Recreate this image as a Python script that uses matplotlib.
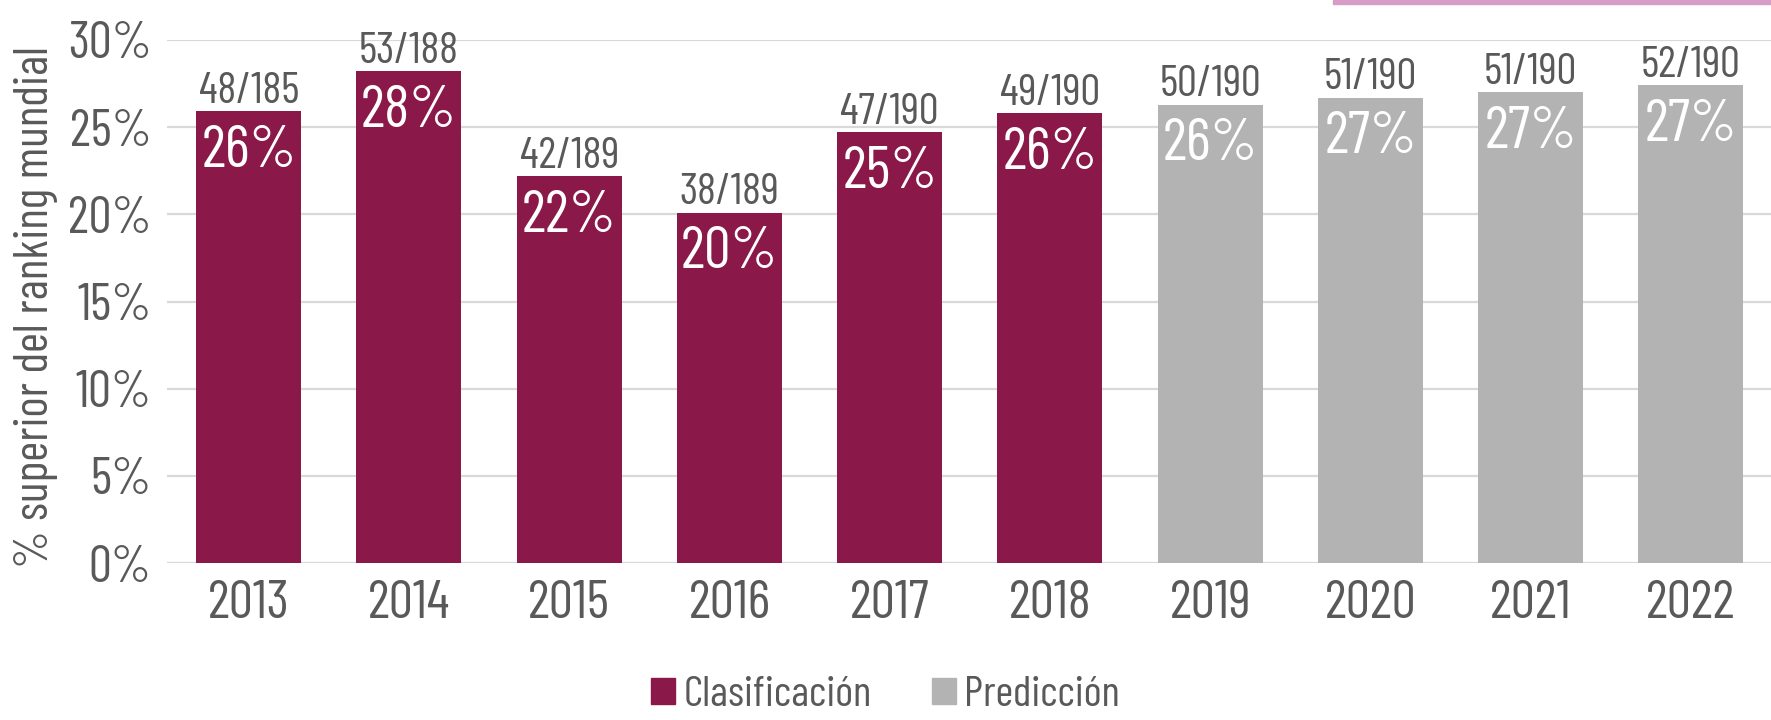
import matplotlib
matplotlib.use("Agg")
import matplotlib.pyplot as plt
from matplotlib.patches import Patch, Rectangle

plt.rcParams['font.family'] = ['Barlow Condensed', 'Oswald', 'Roboto Condensed', 'DejaVu Sans']
plt.rcParams['font.weight'] = 'normal'

# data
years = ['2013', '2014', '2015', '2016', '2017', '2018', '2019', '2020', '2021', '2022']
rank_pos = [48, 53, 42, 38, 47, 49, 50, 51, 51, 52]
n_countries = [185, 188, 189, 189, 190, 190, 190, 190, 190, 190]
pct = [25.9, 28.2, 22.2, 20.1, 24.7, 25.8, 26.3, 26.7, 27.0, 27.4]
is_prediction = [False] * 6 + [True] * 4

maroon = '#8a1848'
grey = '#b3b3b3'
txt = '#595959'

fig = plt.figure(figsize=(17.71, 7.2), dpi=100)
ax = fig.add_axes([167 / 1771, 157 / 720, 1 - 167 / 1771, (563 - 40) / 720])

x = list(range(len(years)))
colors = [grey if p else maroon for p in is_prediction]
bars = ax.bar(x, pct, width=0.655, color=colors, zorder=3)

for xi, b, r, n, p in zip(x, bars, rank_pos, n_countries, pct):
    h = b.get_height()
    ax.annotate(f'{r}/{n}', (xi, h), xytext=(0, 6), textcoords='offset points',
                ha='center', va='baseline', fontsize=32, color=txt, zorder=4,
                annotation_clip=False)
    ax.annotate(f'{round(p)}%', (xi, h), xytext=(0, -10), textcoords='offset points',
                ha='center', va='top', fontsize=43, color='white', zorder=4)

ax.set_xlim(-0.51, 9.5)
ax.set_ylim(0, 30)
ax.set_yticks(range(0, 31, 5))
ax.set_yticklabels([f'{v}%' for v in range(0, 31, 5)])
ax.set_xticks(x)
ax.set_xticklabels(years)
ax.tick_params(axis='y', length=0, pad=11, labelsize=37, labelcolor=txt)
ax.tick_params(axis='x', length=0, pad=12, labelsize=39, labelcolor=txt)
ax.grid(axis='y', color='#d9d9d9', linewidth=1.6, zorder=0)
for s in ax.spines.values():
    s.set_visible(False)

ax.set_ylabel('% superior del ranking mundial', fontsize=35, color=txt)
ax.yaxis.set_label_coords(-0.068, 0.49)

handles = [Patch(color=maroon, label='Clasificación'), Patch(color=grey, label='Predicción')]
fig.legend(handles=handles, loc='center', bbox_to_anchor=(0.5, 24 / 720), ncol=2,
           frameon=False, fontsize=31, labelcolor=txt, handlelength=0.55,
           handleheight=0.55, handletextpad=0.2, columnspacing=1.4,
           borderpad=0.1)

# pink strip at the top right of the image
fig.patches.append(Rectangle((1333 / 1771, 1 - 4 / 720), 1 - 1333 / 1771, 4 / 720,
                             transform=fig.transFigure, color='#d69cc6', zorder=5))

fig.savefig('out.png', dpi=100)
